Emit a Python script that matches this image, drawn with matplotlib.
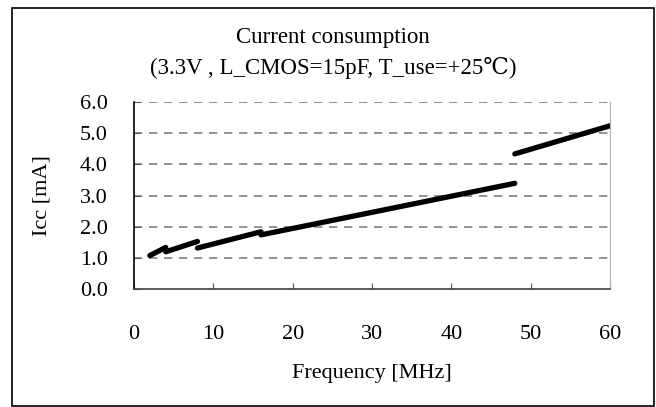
import matplotlib.pyplot as plt
from matplotlib.patches import Rectangle

plt.rcParams['font.family'] = ['Liberation Serif', 'DejaVu Serif']

# frequency [MHz] / Icc [mA], one list pair per divider range
seg_freq = [[2, 4], [4, 8], [8, 16], [16, 48], [48, 60]]
seg_icc = [[1.08, 1.34], [1.2, 1.53], [1.32, 1.84], [1.74, 3.39], [4.33, 5.23]]

x_ticks = [0, 10, 20, 30, 40, 50, 60]
y_ticks = [0.0, 1.0, 2.0, 3.0, 4.0, 5.0, 6.0]

fig = plt.figure(figsize=(6.56, 4.07), dpi=100)
ax = fig.add_axes([134 / 656, 1 - 289.3 / 407, (610 - 134) / 656, (289.3 - 101.7) / 407])

for f, i in zip(seg_freq, seg_icc):
    ax.plot(f, i, color='black', lw=3.8, solid_capstyle='round')

ax.set_xlim(0, 60)
ax.set_ylim(0, 6)
ax.set_xticks(x_ticks)
ax.set_yticks(y_ticks)
ax.set_yticklabels(['%.1f' % v for v in y_ticks])
ax.tick_params(axis='both', direction='in', length=4, labelsize=16, color='#555555')
ax.tick_params(axis='x', pad=26)
ax.tick_params(axis='y', pad=19)
for v in y_ticks[1:]:
    ax.axhline(v, color='#808080', lw=1.2, ls=(0, (5, 4)), zorder=0)

ax.spines['top'].set_visible(False)
ax.spines['right'].set_color('#b0b0b0')
ax.spines['left'].set_color('black')
ax.spines['bottom'].set_color('#404040')
ax.spines['left'].set_linewidth(1.2)
ax.spines['bottom'].set_linewidth(1.2)

ax.set_xlabel('Frequency [MHz]', fontsize=16, labelpad=14)
ax.set_ylabel('Icc [mA]', fontsize=16, labelpad=20)

fig.text(333 / 656, 1 - 37 / 407, 'Current consumption', ha='center', va='center', fontsize=16.5)
fig.text(333 / 656, 1 - 68 / 407, '(3.3V , L_CMOS=15pF, T_use=+25\u2103)', ha='center', va='center', fontsize=16.5)

fig.add_artist(Rectangle((12 / 656, 1 / 407), 642 / 656, 398 / 407, transform=fig.transFigure,
                         fill=False, edgecolor='black', lw=1.2))

fig.savefig('out.png', dpi=100)
